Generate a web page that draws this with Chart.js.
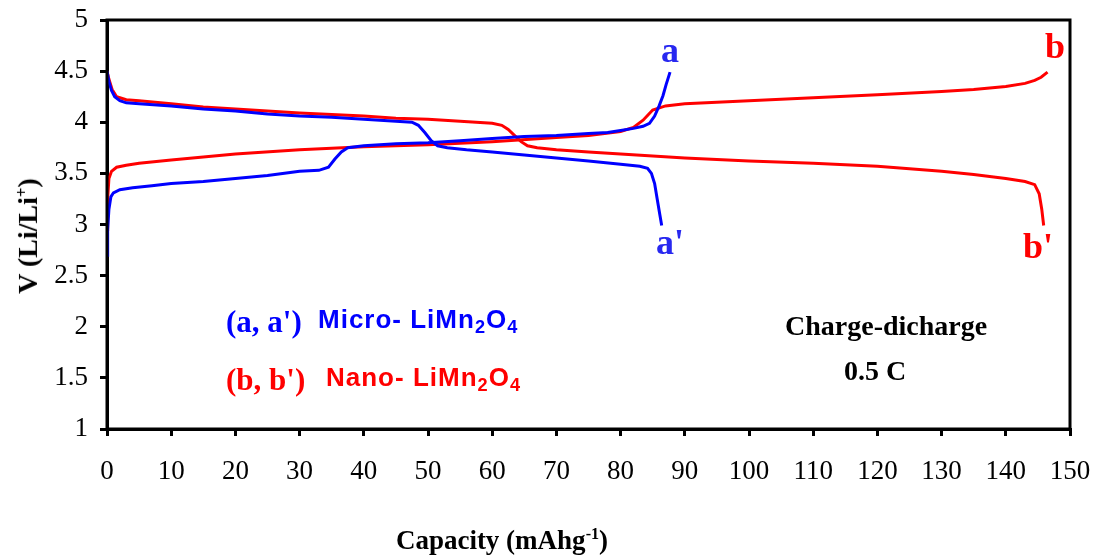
<!DOCTYPE html>
<html>
<head>
<meta charset="utf-8">
<script src="https://cdn.jsdelivr.net/npm/chart.js@4.4.1/dist/chart.umd.min.js"></script>
<style>
  html, body { margin: 0; padding: 0; background: #fff; }
  #wrap { position: relative; width: 1095px; height: 555px; }
  canvas { position: absolute; left: 0; top: 0; }
  .lbl { position: absolute; white-space: nowrap; line-height: 1; }
  .serif { font-family: "Liberation Serif", "Times New Roman", serif; font-weight: bold; }
  .sans { font-family: "Liberation Sans", Arial, sans-serif; font-weight: bold; letter-spacing: 1px; }
  .c { transform: translate(-50%, -50%); }
  .l { transform: translateY(-50%); }
  sub { font-size: 70%; vertical-align: -0.25em; }
  sup { font-size: 60%; vertical-align: 0.6em; }
</style>
</head>
<body>
<div id="wrap">
  <canvas id="chart" width="1095" height="555"></canvas>

  <div class="lbl serif c" style="left:502px; top:540px; font-size:27px;">Capacity (mAhg<sup>-1</sup>)</div>
  <div class="lbl serif c" style="left:28px; top:236px; font-size:28px; transform: translate(-50%, -50%) rotate(-90deg);">V (Li/Li<sup>+</sup>)</div>

  <div class="lbl serif l" style="left:226px; top:321px; font-size:31px; color:#0000ff;">(a, a')</div>
  <div class="lbl sans l" style="left:318px; top:321px; font-size:26px; color:#0000ff;">Micro- LiMn<sub>2</sub>O<sub>4</sub></div>
  <div class="lbl serif l" style="left:226px; top:379px; font-size:31px; color:#ff0000;">(b, b')</div>
  <div class="lbl sans l" style="left:326px; top:379px; font-size:26px; color:#ff0000;">Nano- LiMn<sub>2</sub>O<sub>4</sub></div>

  <div class="lbl serif" style="left:785px; top:312px; font-size:28px; color:#000;">Charge-dicharge</div>
  <div class="lbl serif c" style="left:875px; top:371px; font-size:28px; color:#000;">0.5 C</div>

  <div class="lbl serif c" style="left:670px; top:50px; font-size:36px; color:#2828f0;">a</div>
  <div class="lbl serif c" style="left:670px; top:242px; font-size:36px; color:#2828f0;">a'</div>
  <div class="lbl serif c" style="left:1055px; top:46px; font-size:36px; color:#ff0000;">b</div>
  <div class="lbl serif c" style="left:1038px; top:246px; font-size:36px; color:#ff0000;">b'</div>
</div>

<script>
// Micro-LiMn2O4, charge (a)
const aChargeCap = [0, 0.1, 0.3, 0.6, 1, 2, 4, 7, 10, 15, 20, 25, 30, 33, 34.5, 35.5, 36.5, 37.5, 40, 45, 50, 55, 60, 65, 70, 75, 78, 80, 82, 83.5, 84.5, 85.3, 86, 86.6, 87.1, 87.7];
const aChargeV = [2.70, 2.95, 3.15, 3.27, 3.31, 3.34, 3.36, 3.38, 3.40, 3.42, 3.45, 3.48, 3.52, 3.53, 3.56, 3.64, 3.71, 3.75, 3.77, 3.79, 3.80, 3.82, 3.84, 3.86, 3.87, 3.89, 3.90, 3.92, 3.94, 3.96, 3.99, 4.06, 4.16, 4.26, 4.37, 4.49];

// Micro-LiMn2O4, discharge (a')
const aDischCap = [0, 0.3, 0.7, 1.2, 2, 3, 5, 10, 15, 20, 25, 30, 35, 40, 45, 47.5, 48.5, 49.5, 50.5, 51.5, 53, 56, 60, 65, 70, 75, 80, 83, 84.2, 84.8, 85.3, 85.7, 86.1, 86.4];
const aDischV = [4.50, 4.40, 4.31, 4.25, 4.21, 4.19, 4.18, 4.16, 4.13, 4.11, 4.08, 4.06, 4.05, 4.03, 4.01, 4.00, 3.97, 3.90, 3.82, 3.77, 3.75, 3.73, 3.71, 3.68, 3.65, 3.62, 3.59, 3.57, 3.55, 3.50, 3.40, 3.25, 3.10, 2.99];

// Nano-LiMn2O4, charge (b)
const bChargeCap = [0, 0.1, 0.3, 0.7, 1.5, 3, 5, 10, 15, 20, 30, 40, 50, 60, 70, 75, 80, 82, 83.5, 85, 87, 90, 100, 110, 120, 130, 135, 140, 143, 144.5, 145.5, 146.5];
const bChargeV = [2.95, 3.25, 3.45, 3.52, 3.56, 3.58, 3.60, 3.63, 3.66, 3.69, 3.73, 3.76, 3.78, 3.81, 3.85, 3.87, 3.91, 3.95, 4.02, 4.12, 4.16, 4.18, 4.21, 4.24, 4.27, 4.30, 4.32, 4.35, 4.38, 4.41, 4.44, 4.49];

// Nano-LiMn2O4, discharge (b')
const bDischCap = [0, 0.3, 0.8, 1.5, 3, 5, 10, 15, 20, 30, 40, 45, 50, 55, 60, 61.5, 62.5, 63.5, 64.5, 65.5, 67, 70, 75, 80, 90, 100, 110, 120, 130, 135, 140, 143, 144.5, 145.2, 145.6, 145.9];
const bDischV = [4.50, 4.42, 4.32, 4.25, 4.22, 4.21, 4.18, 4.15, 4.13, 4.09, 4.06, 4.04, 4.03, 4.01, 3.99, 3.97, 3.93, 3.87, 3.81, 3.77, 3.75, 3.73, 3.71, 3.69, 3.65, 3.62, 3.60, 3.57, 3.52, 3.49, 3.45, 3.42, 3.39, 3.30, 3.15, 2.99];

const xTicks = [0, 10, 20, 30, 40, 50, 60, 70, 80, 90, 100, 110, 120, 130, 140, 150];
const yTicks = [1, 1.5, 2, 2.5, 3, 3.5, 4, 4.5, 5];

function toPoints(xs, ys) {
    return xs.map((x, i) => ({ x: x, y: ys[i] }));
}

function curve(label, xs, ys, color) {
    return {
        label: label,
        data: toPoints(xs, ys),
        borderColor: color,
        backgroundColor: color,
        borderWidth: 3,
        pointRadius: 0,
        showLine: true,
        tension: 0
    };
}

// box around the plot area (top and right edges too)
const frame = {
    id: 'frame',
    afterDraw(chart) {
        const a = chart.chartArea;
        const ctx = chart.ctx;
        ctx.save();
        ctx.strokeStyle = '#000';
        ctx.lineWidth = 3;
        ctx.strokeRect(a.left, a.top, a.right - a.left, a.bottom - a.top);
        ctx.restore();
    }
};

const tickFont = { family: '"Liberation Serif", "Times New Roman", serif', size: 27 };

new Chart(document.getElementById('chart').getContext('2d'), {
    type: 'scatter',
    data: {
        datasets: [
            curve('a', aChargeCap, aChargeV, '#0000ff'),
            curve("a'", aDischCap, aDischV, '#0000ff'),
            curve('b', bChargeCap, bChargeV, '#ff0000'),
            curve("b'", bDischCap, bDischV, '#ff0000')
        ]
    },
    options: {
        responsive: false,
        animation: false,
        layout: { padding: { top: 20, right: 25, left: 0, bottom: 0 } },
        plugins: {
            legend: { display: false },
            tooltip: { enabled: false }
        },
        scales: {
            x: {
                type: 'linear',
                min: 0,
                max: 150,
                afterBuildTicks: axis => { axis.ticks = xTicks.map(v => ({ value: v })); },
                afterFit: axis => {
                    axis.height = 126;
                    axis.paddingLeft = 0;
                    axis.paddingRight = 0;
                },
                ticks: {
                    color: '#000',
                    font: tickFont,
                    padding: 20,
                    maxRotation: 0,
                    autoSkip: false,
                    callback: v => String(v)
                },
                grid: { drawOnChartArea: false, drawTicks: true, tickLength: 7, color: '#000', lineWidth: 3 },
                border: { display: true, color: '#000', width: 3 }
            },
            y: {
                type: 'linear',
                min: 1,
                max: 5,
                afterBuildTicks: axis => { axis.ticks = yTicks.map(v => ({ value: v })); },
                afterFit: axis => {
                    axis.width = 107;
                    axis.paddingTop = 0;
                    axis.paddingBottom = 0;
                },
                ticks: {
                    color: '#000',
                    font: tickFont,
                    padding: 12,
                    autoSkip: false,
                    callback: v => String(v)
                },
                grid: { drawOnChartArea: false, drawTicks: true, tickLength: 7, color: '#000', lineWidth: 3 },
                border: { display: true, color: '#000', width: 3 }
            }
        }
    },
    plugins: [frame]
});
</script>
</body>
</html>
